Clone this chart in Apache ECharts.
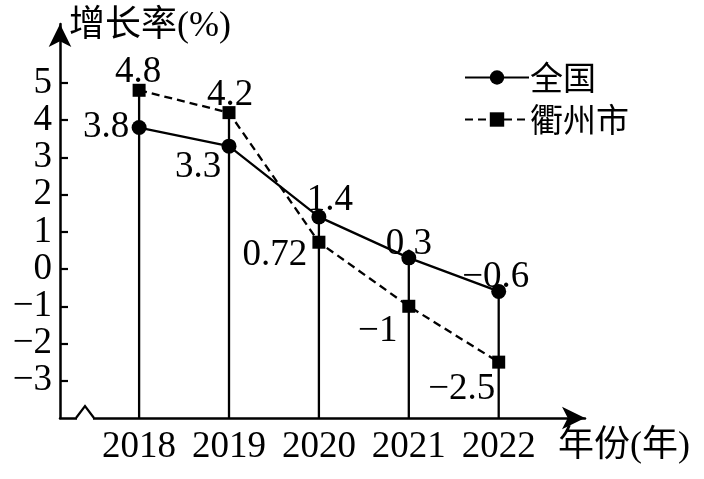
<!DOCTYPE html>
<html><head><meta charset="utf-8">
<script src="https://cdn.jsdelivr.net/npm/echarts@6/dist/echarts.min.js"></script>
<style>html,body{margin:0;padding:0;background:#fff}#c{width:704px;height:479px}</style>
</head><body><div id="c"></div>
<script>
const years = [2018, 2019, 2020, 2021, 2022];
const national = [3.8, 3.3, 1.4, 0.3, -0.6];
const quzhou = [4.8, 4.2, 0.72, -1, -2.5];
const yTicks = [-3, -2, -1, 0, 1, 2, 3, 4, 5];
const seriesNames = ['全国', '衢州市'];
const yAxisName = '增长率(%)';
const xAxisName = '年份(年)';

const Y_MIN = -4, Y_MAX = 6.58, X_MIN = 2017.12, X_MAX = 2022.96;
const SERIF = '"Liberation Serif","Times New Roman","Noto Sans CJK SC",serif';
const FS = 37;
const fmt = v => (v < 0 ? '\u2212' + Math.abs(v) : String(v));

const natOffsets = [[-33, 0], [-31, 21], [11, -17], [0, -14], [-3, -14]];
const qzOffsets = [[-1, -18], [1, -17], [-44, 13], [-31, 25], [-37, 27]];

function mkData(vals, offs) {
  return vals.map((v, i) => ({
    value: [years[i], v],
    label: { offset: offs[i] }
  }));
}
const labelBase = {
  show: true, position: 'inside', color: '#000', fontFamily: SERIF, fontSize: FS,
  textBorderWidth: 0, formatter: p => fmt(p.value[1])
};

const chart = echarts.init(document.getElementById('c'));
chart.setOption({
  animation: false,
  grid: { left: 60, right: 119, top: 24, bottom: 61, containLabel: false },
  legend: {
    orient: 'vertical', left: 459, top: 56, itemWidth: 64, itemHeight: 18, itemGap: 9,
    textStyle: { fontFamily: '"Noto Sans CJK SC"', fontSize: 33, color: '#000', padding: [0, 0, 0, -4] },
    data: seriesNames
  },
  xAxis: {
    type: 'value', min: X_MIN, max: X_MAX,
    splitLine: { show: false },
    axisLine: { onZero: false, symbol: ['none', 'arrow'], symbolSize: [17, 23], lineStyle: { color: '#000', width: 2.5 } },
    axisTick: { show: false },
    axisLabel: { customValues: years, formatter: v => String(v), color: '#000', fontFamily: SERIF, fontSize: FS, margin: 11 }
  },
  yAxis: {
    type: 'value', min: Y_MIN, max: Y_MAX,
    splitLine: { show: false },
    axisLine: { onZero: false, symbol: ['none', 'arrow'], symbolSize: [17, 23], lineStyle: { color: '#000', width: 2.5 } },
    axisTick: { show: true, inside: true, length: 8, customValues: yTicks, lineStyle: { color: '#000', width: 2.2 } },
    axisLabel: { customValues: yTicks, formatter: v => fmt(v), color: '#000', fontFamily: SERIF, fontSize: FS, margin: 8 }
  },
  series: [
    {
      type: 'custom', silent: true, z: 1,
      data: years.map((y, i) => [y, Math.max(national[i], quzhou[i])]),
      renderItem: (params, api) => {
        const a = api.coord([api.value(0), Y_MIN]);
        const b = api.coord([api.value(0), api.value(1)]);
        return { type: 'line', shape: { x1: a[0], y1: a[1], x2: b[0], y2: b[1] }, style: { stroke: '#000', lineWidth: 2.3 } };
      }
    },
    {
      name: seriesNames[0], type: 'line', z: 3,
      symbol: 'circle', symbolSize: 15,
      itemStyle: { color: '#000' }, lineStyle: { color: '#000', width: 2.3 },
      label: labelBase,
      data: mkData(national, natOffsets)
    },
    {
      name: seriesNames[1], type: 'line', z: 2,
      symbol: 'rect', symbolSize: 13,
      itemStyle: { color: '#000' }, lineStyle: { color: '#000', width: 2.3, type: [8, 5] },
      label: labelBase,
      data: mkData(quzhou, qzOffsets)
    }
  ]
});

const o = chart.convertToPixel({ gridIndex: 0 }, [X_MIN, Y_MIN]);
const xEnd = chart.convertToPixel({ gridIndex: 0 }, [X_MAX, Y_MIN]);
chart.setOption({
  graphic: [
    { type: 'line', z: 100, shape: { x1: o[0] + 17, y1: o[1], x2: o[0] + 33, y2: o[1] }, style: { stroke: '#fff', lineWidth: 4 } },
    { type: 'polyline', z: 101, shape: { points: [[o[0] + 16, o[1]], [o[0] + 25, o[1] - 12], [o[0] + 34, o[1]]] }, style: { stroke: '#000', lineWidth: 2.2, fill: null } },
    { type: 'text', z: 100, left: o[0] + 9, top: 9, style: { text: yAxisName, font: '36px ' + SERIF, fill: '#000' } },
    { type: 'text', z: 100, left: xEnd[0] - 27, top: o[1] + 11, style: { text: xAxisName, font: '36px ' + SERIF, fill: '#000' } }
  ]
});
</script></body></html>
